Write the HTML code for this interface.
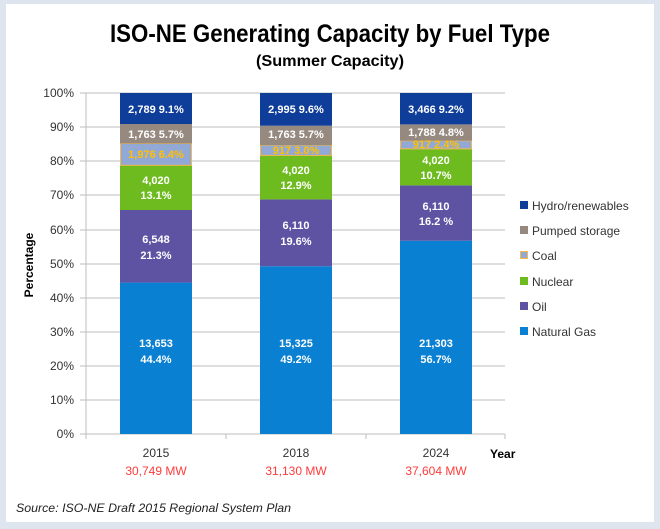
<!DOCTYPE html>
<html><head><style>
body{margin:0;background:#fff}
svg{display:block;font-family:"Liberation Sans",sans-serif}
</style></head><body>
<svg width="660" height="529" viewBox="0 0 660 529">
<rect x="0" y="0" width="660" height="529" fill="#dfe5ef"/>
<rect x="6" y="4" width="648" height="518" fill="#fff"/>
<text x="330" y="42" text-anchor="middle" font-size="25" font-weight="bold" textLength="440" lengthAdjust="spacingAndGlyphs">ISO-NE Generating Capacity by Fuel Type</text>
<text x="330" y="66" text-anchor="middle" font-size="16" font-weight="bold" textLength="148" lengthAdjust="spacingAndGlyphs">(Summer Capacity)</text>
<g stroke="#bdbdbd" stroke-width="1">
<line x1="80" y1="93" x2="505" y2="93"/><line x1="80" y1="127" x2="505" y2="127"/><line x1="80" y1="161" x2="505" y2="161"/><line x1="80" y1="195" x2="505" y2="195"/><line x1="80" y1="230" x2="505" y2="230"/><line x1="80" y1="264" x2="505" y2="264"/><line x1="80" y1="298" x2="505" y2="298"/><line x1="80" y1="332" x2="505" y2="332"/><line x1="80" y1="366" x2="505" y2="366"/><line x1="80" y1="400" x2="505" y2="400"/><line x1="80" y1="434" x2="505" y2="434"/>
<line x1="86" y1="93" x2="86" y2="434"/>
<line x1="86" y1="434" x2="86" y2="439"/><line x1="226" y1="434" x2="226" y2="439"/><line x1="366" y1="434" x2="366" y2="439"/><line x1="505" y1="434" x2="505" y2="439"/>
</g>
<g font-size="12" fill="#333" text-anchor="end">
<text x="74" y="97">100%</text><text x="74" y="131">90%</text><text x="74" y="165">80%</text><text x="74" y="199">70%</text><text x="74" y="234">60%</text><text x="74" y="268">50%</text><text x="74" y="302">40%</text><text x="74" y="336">30%</text><text x="74" y="370">20%</text><text x="74" y="404">10%</text><text x="74" y="438">0%</text>
</g>
<text transform="translate(33,265) rotate(-90)" text-anchor="middle" font-size="12" font-weight="bold">Percentage</text>
<!-- 2015 -->
<rect x="120" y="282.6" width="72" height="151.4" fill="#0a80d2"/>
<rect x="120" y="210" width="72" height="72.6" fill="#5e52a3"/>
<rect x="120" y="165.3" width="72" height="44.7" fill="#6ebb1f"/>
<rect x="120.5" y="143.5" width="71" height="21.8" fill="#92a9d6" stroke="#f7b84b"/>
<rect x="120" y="124" width="72" height="19.5" fill="#968a80"/>
<rect x="120" y="93" width="72" height="31" fill="#0f3d9a"/>
<!-- 2018 -->
<rect x="260" y="266.2" width="72" height="167.8" fill="#0a80d2"/>
<rect x="260" y="199.4" width="72" height="66.8" fill="#5e52a3"/>
<rect x="260" y="155.4" width="72" height="44" fill="#6ebb1f"/>
<rect x="260.5" y="145.2" width="71" height="10.2" fill="#92a9d6" stroke="#f7b84b"/>
<rect x="260" y="125.7" width="72" height="19.5" fill="#968a80"/>
<rect x="260" y="93" width="72" height="32.7" fill="#0f3d9a"/>
<!-- 2024 -->
<rect x="400" y="240.7" width="72" height="193.3" fill="#0a80d2"/>
<rect x="400" y="185.4" width="72" height="55.3" fill="#5e52a3"/>
<rect x="400" y="148.9" width="72" height="36.5" fill="#6ebb1f"/>
<rect x="400.5" y="140.7" width="71" height="8.2" fill="#92a9d6" stroke="#f7b84b"/>
<rect x="400" y="124.4" width="72" height="16.3" fill="#968a80"/>
<rect x="400" y="93" width="72" height="31.4" fill="#0f3d9a"/>
<g font-size="11" font-weight="bold" fill="#fff" text-anchor="middle">
<text x="156" y="113">2,789  9.1%</text><text x="156" y="138">1,763  5.7%</text><text x="156" y="158" fill="#ffc000">1,976  6.4%</text>
<text x="156" y="184">4,020</text><text x="156" y="199">13.1%</text>
<text x="156" y="243">6,548</text><text x="156" y="259">21.3%</text>
<text x="156" y="347">13,653</text><text x="156" y="363">44.4%</text>
<text x="296" y="113">2,995  9.6%</text><text x="296" y="138">1,763  5.7%</text><text x="296" y="154" fill="#ffc000">917  3.0%</text>
<text x="296" y="174">4,020</text><text x="296" y="189">12.9%</text>
<text x="296" y="229">6,110</text><text x="296" y="245">19.6%</text>
<text x="296" y="347">15,325</text><text x="296" y="363">49.2%</text>
<text x="436" y="113">3,466  9.2%</text><text x="436" y="136">1,788  4.8%</text><text x="436" y="148" fill="#ffc000">917  2.4%</text>
<text x="436" y="164">4,020</text><text x="436" y="179">10.7%</text>
<text x="436" y="210">6,110</text><text x="436" y="225">16.2 %</text>
<text x="436" y="347">21,303</text><text x="436" y="363">56.7%</text>
</g>
<g font-size="12" text-anchor="middle">
<text x="156" y="457" fill="#333">2015</text><text x="296" y="457" fill="#333">2018</text><text x="436" y="457" fill="#333">2024</text>
<text x="156" y="475" fill="#ff3b3b">30,749 MW</text><text x="296" y="475" fill="#ff3b3b">31,130 MW</text><text x="436" y="475" fill="#ff3b3b">37,604 MW</text>
</g>
<text x="490" y="458" font-size="12" font-weight="bold">Year</text>
<g font-size="12" fill="#333">
<rect x="520" y="201" width="8" height="8" fill="#0f3d9a"/><text x="532" y="210">Hydro/renewables</text>
<rect x="520" y="226" width="8" height="8" fill="#968a80"/><text x="532" y="235">Pumped storage</text>
<rect x="520.5" y="251.5" width="7" height="7" fill="#92a9d6" stroke="#f7b84b"/><text x="532" y="260">Coal</text>
<rect x="520" y="277" width="8" height="8" fill="#6ebb1f"/><text x="532" y="286">Nuclear</text>
<rect x="520" y="302" width="8" height="8" fill="#5e52a3"/><text x="532" y="311">Oil</text>
<rect x="520" y="327" width="8" height="8" fill="#0a80d2"/><text x="532" y="336">Natural Gas</text>
</g>
<text x="16" y="512" font-size="12" font-style="italic" fill="#222" textLength="275" lengthAdjust="spacingAndGlyphs">Source: ISO-NE Draft 2015 Regional System Plan</text>
</svg>
</body></html>
